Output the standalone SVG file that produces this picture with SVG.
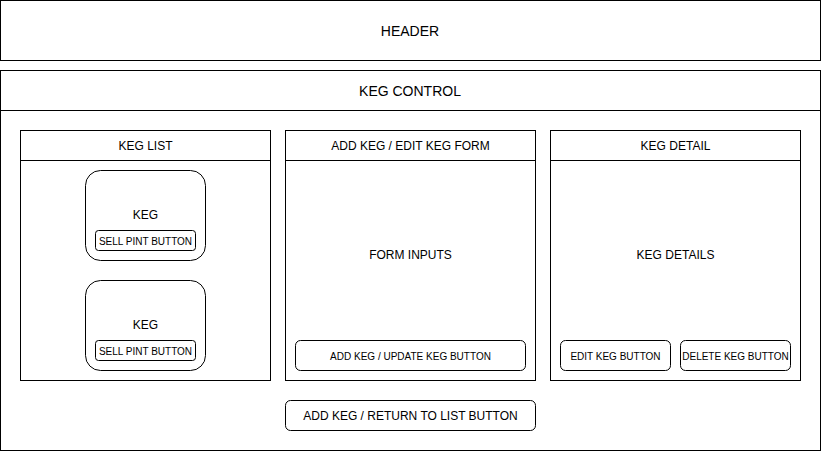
<svg xmlns="http://www.w3.org/2000/svg" width="821" height="451" viewBox="0 0 821 451">
  <style>
    .box { fill: #ffffff; stroke: #000000; stroke-width: 1; }
    .rbox { fill: #ffffff; stroke: #000000; stroke-width: 1; }
    text { font-family: "Liberation Sans", Arial, Helvetica, sans-serif; fill: #000000; text-anchor: middle; dominant-baseline: central; }
    .t14 { font-size: 14px; }
    .t12 { font-size: 12px; }
    .t10 { font-size: 10px; }
  </style>
  <rect width="821" height="451" fill="#ffffff"/>

  <!-- page header -->
  <g id="header">
    <rect class="box" x="0.5" y="0.5" width="820" height="60"/>
    <text class="t14" x="410" y="30.5">HEADER</text>
  </g>

  <!-- main control container -->
  <g id="keg-control">
    <rect class="box" x="0.5" y="70.5" width="820" height="380"/>
    <line x1="0.5" y1="110.5" x2="820.5" y2="110.5" stroke="#000" stroke-width="1"/>
    <text class="t14" x="410" y="90.5">KEG CONTROL</text>
  </g>

  <!-- list panel -->
  <g id="keg-list">
    <rect class="box" x="20.5" y="130.5" width="250" height="250"/>
    <line x1="20.5" y1="160.5" x2="270.5" y2="160.5" stroke="#000" stroke-width="1"/>
    <text class="t12" x="145.5" y="145.5">KEG LIST</text>
  </g>

  <g id="keg-1">
    <rect class="rbox" x="85.5" y="170.5" width="120" height="90" rx="15" ry="15"/>
    <text class="t12" x="145.5" y="215">KEG</text>
  </g>
  <g id="sell-pint-1">
    <rect class="rbox" x="95.5" y="230.5" width="100" height="20" rx="3" ry="3"/>
    <text class="t10" x="145.5" y="241">SELL PINT BUTTON</text>
  </g>

  <g id="keg-2">
    <rect class="rbox" x="85.5" y="280.5" width="120" height="90" rx="15" ry="15"/>
    <text class="t12" x="145.5" y="325">KEG</text>
  </g>
  <g id="sell-pint-2">
    <rect class="rbox" x="95.5" y="340.5" width="100" height="20" rx="3" ry="3"/>
    <text class="t10" x="145.5" y="351">SELL PINT BUTTON</text>
  </g>

  <!-- form panel -->
  <g id="keg-form">
    <rect class="box" x="285.5" y="130.5" width="250" height="250"/>
    <line x1="285.5" y1="160.5" x2="535.5" y2="160.5" stroke="#000" stroke-width="1"/>
    <text class="t12" x="410.5" y="145.5">ADD KEG / EDIT KEG FORM</text>
    <text class="t12" x="410.5" y="255">FORM INPUTS</text>
  </g>
  <g id="form-submit">
    <rect class="rbox" x="295.5" y="340.5" width="230" height="30" rx="5" ry="5"/>
    <text class="t10" x="410.5" y="356">ADD KEG / UPDATE KEG BUTTON</text>
  </g>

  <!-- detail panel -->
  <g id="keg-detail">
    <rect class="box" x="550.5" y="130.5" width="250" height="250"/>
    <line x1="550.5" y1="160.5" x2="800.5" y2="160.5" stroke="#000" stroke-width="1"/>
    <text class="t12" x="675.5" y="145.5">KEG DETAIL</text>
    <text class="t12" x="675.5" y="255">KEG DETAILS</text>
  </g>
  <g id="edit-button">
    <rect class="rbox" x="560.5" y="340.5" width="110" height="30" rx="5" ry="5"/>
    <text class="t10" x="615.5" y="356">EDIT KEG BUTTON</text>
  </g>
  <g id="delete-button">
    <rect class="rbox" x="680.5" y="340.5" width="110" height="30" rx="5" ry="5"/>
    <text class="t10" x="735.5" y="356">DELETE KEG BUTTON</text>
  </g>

  <!-- toggle button -->
  <g id="toggle-button">
    <rect class="rbox" x="285.5" y="400.5" width="250" height="30" rx="5" ry="5"/>
    <text class="t12" x="410.5" y="415.5">ADD KEG / RETURN TO LIST BUTTON</text>
  </g>

  <g id="connectors"></g>
</svg>
